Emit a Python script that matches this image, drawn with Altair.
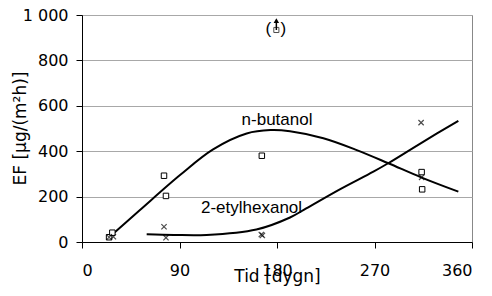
import altair as alt
import pandas as pd

# Measured points
but_day = [25, 28, 75.7, 77.5, 166, 313.5, 314]
but_val = [21, 41, 292, 203, 380, 308, 232]
eh_day = [25, 29, 75.7, 77.5, 165.5, 166.5, 313, 313.5]
eh_val = [21, 23, 67, 19, 33, 29, 526, 285]

# Outlier (in parentheses, arrow up)
out_day = [179.4]
out_val = [934]

# Trend curves
but_curve_day = [27.4, 53.5, 90.5, 121, 152, 174, 192, 222.8, 253.6, 282.8, 313, 347.4]
but_curve_val = [31, 141, 295, 408, 478, 493, 488, 457, 405, 347, 285, 222]
eh_curve_day = [59.7, 85, 115, 161, 192, 207, 238, 269, 283, 313, 347.4]
eh_curve_val = [34, 31, 31, 55, 108, 148, 232, 310, 348, 436, 534]

labels = ["n-butanol", "2-etylhexanol"]
label_day = [180, 156.5]
label_val = [515, 126]

xs = alt.Scale(domain=[0, 360], nice=False, zero=False)
ys = alt.Scale(domain=[0, 1000], nice=False)

X_AX = alt.Axis(values=[0, 90, 180, 270, 360], grid=False, title="Tid [dygn]",
                domain=True, domainColor="black", tickColor="black", tickSize=6,
                labelFont="DejaVu Sans", labelFontSize=16, labelColor="black",
                labelPadding=14, titleFont="DejaVu Sans", titleFontSize=17,
                titleFontWeight="normal", titleColor="black",
                titleY=39, titleBaseline="alphabetic")
Y_AX = alt.Axis(values=[0, 200, 400, 600, 800, 1000], grid=True, gridColor="#a8a8a8",
                title="EF [µg/(m²h)]", domain=True, domainColor="black",
                tickColor="black", tickSize=6,
                labelExpr="datum.value == 1000 ? '1 000' : datum.label",
                labelFont="DejaVu Sans", labelFontSize=16, labelColor="black",
                labelPadding=8, titleFont="DejaVu Sans", titleFontSize=17,
                titleFontWeight="normal", titleColor="black",
                titleX=-62, titleY=113, titleBaseline="middle")

bc = pd.DataFrame({"d": but_curve_day, "v": but_curve_val})
ec = pd.DataFrame({"d": eh_curve_day, "v": eh_curve_val})
bp = pd.DataFrame({"d": but_day, "v": but_val})
ep = pd.DataFrame({"d": eh_day, "v": eh_val})
op = pd.DataFrame({"d": out_day, "v": out_val})
lb = pd.DataFrame({"t": labels, "d": label_day, "v": label_val})

base_x = alt.X("d:Q", scale=xs, axis=X_AX)
base_y = alt.Y("v:Q", scale=ys, axis=Y_AX)

line_b = alt.Chart(bc).mark_line(color="black", strokeWidth=2, interpolate="catmull-rom").encode(x=base_x, y=base_y)
line_e = alt.Chart(ec).mark_line(color="black", strokeWidth=2, interpolate="catmull-rom").encode(x="d:Q", y="v:Q")

sq = alt.Chart(bp).mark_point(shape="square", size=30, filled=False, color="black",
                              strokeWidth=1, fill="white", fillOpacity=1).encode(x="d:Q", y="v:Q")
cross_path = "M-1,-1L1,1M-1,1L1,-1"
cr = alt.Chart(ep).mark_point(shape=cross_path, size=28, filled=False, color="black",
                              strokeWidth=1.2).encode(x="d:Q", y="v:Q")

osq = alt.Chart(op).mark_point(shape="square", size=26, filled=False, color="black",
                               strokeWidth=1).encode(x="d:Q", y="v:Q")
arrow_line = alt.Chart(op).mark_rule(color="black", strokeWidth=1.5).encode(
    x="d:Q", y="v:Q", y2=alt.datum(970))
arrow_head = alt.Chart(op).mark_point(shape="triangle-up", size=30, filled=True, color="black",
                                      opacity=1).encode(x="d:Q", y=alt.datum(975))
par_l = alt.Chart(op).mark_text(text="(", font="Liberation Sans", fontSize=17, dx=-8, dy=-1,
                                color="black").encode(x="d:Q", y="v:Q")
par_r = alt.Chart(op).mark_text(text=")", font="Liberation Sans", fontSize=17, dx=7, dy=-1,
                                color="black").encode(x="d:Q", y="v:Q")

txt = alt.Chart(lb).mark_text(font="Liberation Sans", fontSize=17, color="black",
                              baseline="alphabetic", align="center").encode(x="d:Q", y="v:Q", text="t:N")

chart = alt.layer(line_b, line_e, sq, cr, osq, arrow_line, arrow_head, par_l, par_r, txt).properties(
    width=390, height=227,
    autosize=alt.AutoSizeParams(type="none"),
    padding={"left": 74, "top": 7, "right": 10, "bottom": 52},
).configure_view(stroke="#888888", strokeWidth=1)

chart.save("out.html", embed_options={"renderer": "svg", "actions": False})
